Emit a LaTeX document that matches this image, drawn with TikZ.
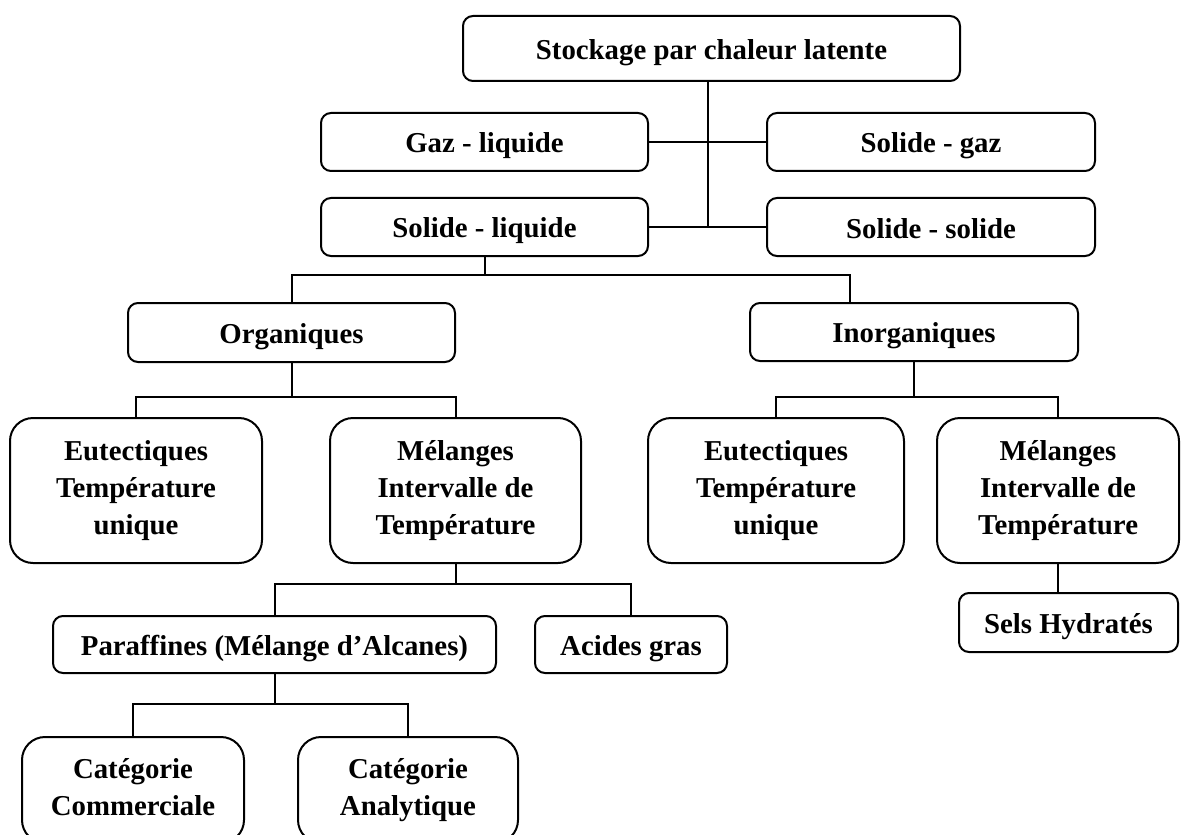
\documentclass[tikz,border=0pt]{standalone}
\usepackage{fontspec}
\setmainfont{Liberation Serif}
\usetikzlibrary{calc}

\begin{document}
\begin{tikzpicture}[x=0.5pt,y=-0.5pt,
  every node/.style={font=\fontsize{14.4pt}{18.5pt}\selectfont\bfseries, align=center, inner sep=0pt,
    execute at begin node={\rule{0pt}{14pt}},
    execute at end node={\rule[-3pt]{0pt}{3pt}}},
  box/.style={draw, line width=1pt, rounded corners=5pt},
  tallbox/.style={draw, line width=1pt, rounded corners=11.5pt},
  link/.style={line width=1pt}]
\useasboundingbox (0,0) rectangle (1181,834);

% root and phase-change families
\node[box, minimum width=248.5pt, minimum height=32.5pt] (top) at (711.5,48.5) {Stockage par chaleur latente};
\node[box, minimum width=163.5pt, minimum height=29pt] (gl) at (484.5,142) {Gaz - liquide};
\node[box, minimum width=163.5pt, minimum height=29pt] (sl) at (484.5,227) {Solide - liquide};
\node[box, minimum width=164pt, minimum height=29pt] (sg) at (931,142) {Solide - gaz};
\node[box, minimum width=164pt, minimum height=29pt] (ss) at (931,227) {Solide - solide};

% material classes
\node[box, minimum width=163.5pt, minimum height=29.5pt] (org) at (291.5,332.5) {Organiques};
\node[box, minimum width=164pt, minimum height=29pt] (inorg) at (914,332) {Inorganiques};

\node[tallbox, minimum width=126pt, minimum height=72.5pt] (eo) at (136,490.5) {Eutectiques\\Température\\unique};
\node[tallbox, minimum width=125.5pt, minimum height=72.5pt] (mo) at (455.5,490.5) {Mélanges\\Intervalle de\\Température};
\node[tallbox, minimum width=128pt, minimum height=72.5pt] (ei) at (776,490.5) {Eutectiques\\Température\\unique};
\node[tallbox, minimum width=121pt, minimum height=72.5pt] (mi) at (1058,490.5) {Mélanges\\Intervalle de\\Température};

% sub-families
\node[box, minimum width=221.5pt, minimum height=28.5pt] (par) at (274.5,644.5) {Paraffines (Mélange d’Alcanes)};
\node[box, minimum width=96pt, minimum height=28.5pt] (ag) at (631,644.5) {Acides gras};
\node[box, minimum width=109.5pt, minimum height=29.5pt] (sels) at (1068.5,622.5) {Sels Hydratés};

\node[tallbox, minimum width=111pt, minimum height=53pt] (cc) at (133,790) {Catégorie\\Commerciale};
\node[tallbox, minimum width=110pt, minimum height=53pt] (ca) at (408,790) {Catégorie\\Analytique};

% connector levels
\coordinate (trunk) at ($(gl.east)!0.5!(sg.west)$);
\coordinate (lvl1) at (0,275);
\coordinate (lvl2) at (0,397);
\coordinate (lvl3) at (0,584);
\coordinate (lvl4) at (0,704);
\coordinate (inin) at ([xshift=-32pt]inorg.north);

\draw[link] (top.south -| trunk) -- (trunk |- sl.east);
\draw[link] (gl.east) -- (sg.west);
\draw[link] (sl.east) -- (ss.west);

\draw[link] (sl.south) -- (sl.south |- lvl1);
\draw[link] (org.north) |- (inin |- lvl1) -- (inin);

\draw[link] (org.south) -- (org.south |- lvl2);
\draw[link] (eo.north) |- (mo.north |- lvl2) -- (mo.north);

\draw[link] (inorg.south) -- (inorg.south |- lvl2);
\draw[link] (ei.north) |- (mi.north |- lvl2) -- (mi.north);

\draw[link] (mo.south) -- (mo.south |- lvl3);
\draw[link] (par.north) |- (ag.north |- lvl3) -- (ag.north);

\draw[link] (par.south) -- (par.south |- lvl4);
\draw[link] (cc.north) |- (ca.north |- lvl4) -- (ca.north);

\draw[link] (mi.south) -- (mi.south |- sels.north);
\end{tikzpicture}
\end{document}
